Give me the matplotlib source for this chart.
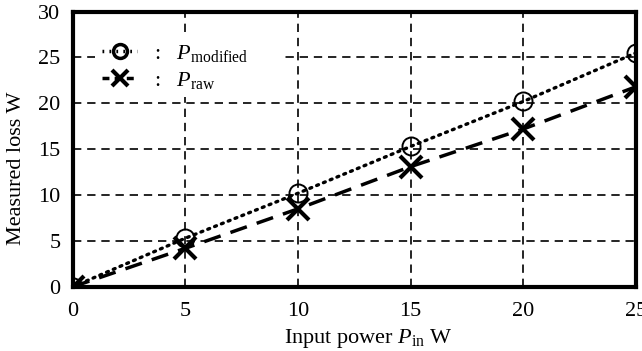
import matplotlib
matplotlib.use("Agg")
import matplotlib.pyplot as plt
from matplotlib.lines import Line2D
import numpy as np

plt.rcParams['font.family'] = ['Liberation Serif', 'DejaVu Serif']
plt.rcParams['mathtext.fontset'] = 'custom'
plt.rcParams['mathtext.rm'] = 'Liberation Serif'
plt.rcParams['mathtext.it'] = 'Liberation Serif:italic'

input_power = [0, 5, 10, 15, 20, 25]
p_modified = [0, 5.3, 10.2, 15.3, 20.2, 25.5]
p_raw = [0, 4.2, 8.5, 13.1, 17.2, 21.8]
x_ticks = [0, 5, 10, 15, 20, 25]
y_ticks = [0, 5, 10, 15, 20, 25, 30]

fig = plt.figure(figsize=(6.42, 3.51), dpi=100)
ax = fig.add_axes([0.1135, 0.183, 0.877, 0.784])

x = np.array(input_power, dtype=float)
ax.plot(x, p_modified, linestyle=(0, (0.6, 1.6)), color='black', lw=2.4,
        dash_capstyle='round', zorder=3)
ax.plot(x, p_raw, linestyle=(0, (5, 3)), color='black', lw=2.5, zorder=3)
ax.plot(x, p_modified, linestyle='none', marker='o', ms=13, mfc='none',
        mec='black', mew=1.4, zorder=4)
ax.plot(x, p_raw, linestyle='none', marker='x', ms=16, mec='black',
        mew=3, zorder=4)

ax.set_xlim(0, 25)
ax.set_ylim(0, 30)
ax.set_xticks(x_ticks)
ax.set_yticks(y_ticks)
ax.tick_params(length=0, labelsize=16)
ax.tick_params(axis='x', pad=11)
ax.tick_params(axis='y', pad=9)
ax.grid(True, color='black', linestyle=(0, (5, 3.5)), lw=1.2)
for s in ax.spines.values():
    s.set_linewidth(3)

ax.set_xlabel(r'Input power $P_{\mathrm{in}}$ W', fontsize=16)
ax.set_ylabel('Measured loss W', fontsize=16)
ax.xaxis.set_label_coords(0.525, -0.148)
ax.yaxis.set_label_coords(-0.083, 0.43)

h1 = Line2D([], [], linestyle=(0, (0.5, 1.5)), color='black', lw=2.5,
            marker='o', ms=10, mfc='none', mec='black', mew=2.5)
h2 = Line2D([], [], linestyle=(0, (2, 1.5)), color='black', lw=2.5,
            marker='x', ms=12, mec='black', mew=3)
leg = ax.legend([h1, h2],
                [r':   $P_{\mathrm{modified}}$      ', r':   $P_{\mathrm{raw}}$'],
                loc='upper left', frameon=True, fontsize=16,
                facecolor='white', edgecolor='none', framealpha=1.0,
                fancybox=False, borderpad=0.3,
                handlelength=1.6, handletextpad=0.73, labelspacing=0.25,
                bbox_to_anchor=(0.02, 0.95))
leg.set_zorder(5)

fig.savefig('out.png', dpi=100)
